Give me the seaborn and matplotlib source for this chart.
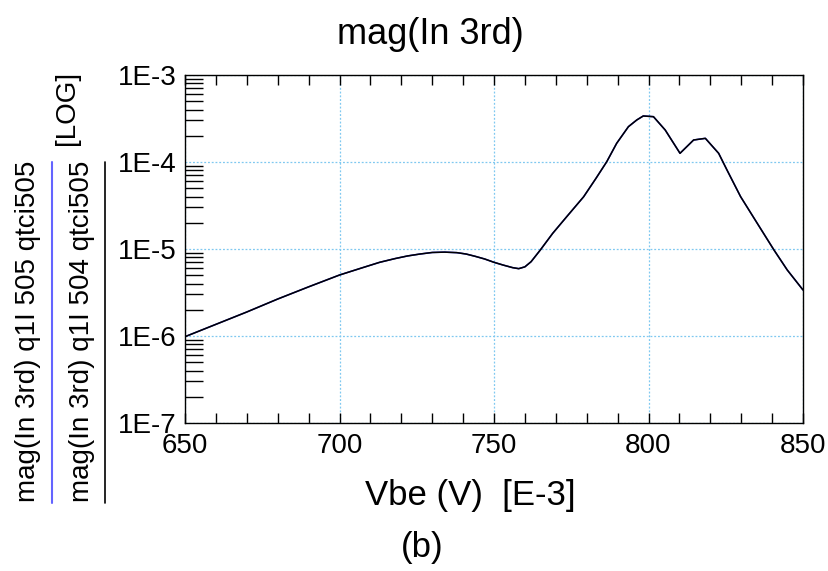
import numpy as np
import pandas as pd
import matplotlib
matplotlib.use("Agg")
import matplotlib.pyplot as plt
import seaborn as sns
from matplotlib.ticker import FixedLocator, NullFormatter, LogLocator
from matplotlib.lines import Line2D

# ---- data ----
vbe_mv = [650, 660, 670, 680, 690, 700, 707, 713, 718, 722, 726, 730, 734, 738, 741,
          744, 747, 750, 753, 756, 758, 760, 762, 765, 769, 773.5, 779, 783, 786.5,
          789.7, 793.5, 796.2, 798.3, 801.6, 805.4, 810.2, 814.6, 818.4, 822.7,
          825.4, 829.8, 835.2, 840.6, 844.9, 850]
mag_log10_q1i505 = [-6.008, -5.866, -5.724, -5.575, -5.435, -5.299, -5.22, -5.153,
                    -5.11, -5.08, -5.058, -5.04, -5.036, -5.042, -5.058, -5.085,
                    -5.115, -5.153, -5.185, -5.214, -5.226, -5.205, -5.146, -5.011,
                    -4.82, -4.63, -4.40, -4.188, -3.996, -3.785, -3.594, -3.517,
                    -3.471, -3.479, -3.632, -3.9, -3.747, -3.728, -3.9, -4.092,
                    -4.398, -4.705, -5.011, -5.241, -5.471]
mag_log10_q1i504 = [-6.008, -5.866, -5.724, -5.575, -5.435, -5.299, -5.22, -5.153,
                    -5.11, -5.08, -5.058, -5.04, -5.036, -5.042, -5.058, -5.085,
                    -5.115, -5.153, -5.185, -5.214, -5.226, -5.205, -5.146, -5.011,
                    -4.82, -4.63, -4.40, -4.188, -3.996, -3.785, -3.594, -3.517,
                    -3.471, -3.479, -3.632, -3.9, -3.747, -3.728, -3.9, -4.092,
                    -4.398, -4.705, -5.011, -5.241, -5.471]
series_names = ["mag(In 3rd) q1I 505 qtci505", "mag(In 3rd) q1I 504 qtci505"]
series_colors = ["#1a1acc", "#000000"]
x_ticks = [650, 700, 750, 800, 850]
y_ticks = [1e-7, 1e-6, 1e-5, 1e-4, 1e-3]
y_tick_labels = ["1E-7", "1E-6", "1E-5", "1E-4", "1E-3"]
title = "mag(In 3rd)"
xlabel = "Vbe (V)  [E-3]"
caption = "(b)"

df = pd.concat([
    pd.DataFrame({"Vbe": vbe_mv, "mag": np.power(10.0, mag_log10_q1i505),
                  "series": series_names[0]}),
    pd.DataFrame({"Vbe": vbe_mv, "mag": np.power(10.0, mag_log10_q1i504),
                  "series": series_names[1]}),
])

sns.set_style("white")
plt.rcParams["font.family"] = ["Liberation Sans", "DejaVu Sans"]
plt.rcParams["text.color"] = "black"
plt.rcParams["xtick.color"] = "black"
plt.rcParams["ytick.color"] = "black"

W, H = 829, 571
fig = plt.figure(figsize=(W / 100, H / 100), dpi=100)
L, R, T, B = 185, 803, 75, 423
ax = fig.add_axes([L / W, 1 - B / H, (R - L) / W, (B - T) / H])

sns.lineplot(data=df, x="Vbe", y="mag", hue="series", palette=series_colors,
             hue_order=series_names, ax=ax, legend=False, linewidth=1.1,
             estimator=None, sort=False)

ax.set_yscale("log")
ax.set_xlim(650, 850)
ax.set_ylim(1e-7, 1e-3)

ax.set_xticks(x_ticks)
ax.set_xticklabels([str(v) for v in x_ticks])
ax.set_yticks(y_ticks)
ax.set_yticklabels(y_tick_labels)
ax.xaxis.set_minor_locator(FixedLocator(np.arange(650, 851, 10)))
ax.yaxis.set_minor_locator(LogLocator(base=10, subs=np.arange(2, 10), numticks=20))
ax.yaxis.set_minor_formatter(NullFormatter())

ax.tick_params(axis="both", which="major", labelsize=20, labelcolor="black")
ax.tick_params(axis="x", which="minor", direction="in", top=True, bottom=True,
               length=7, width=1, color="black")
ax.tick_params(axis="x", which="major", direction="in", top=True, bottom=True,
               length=7, width=1, color="black", pad=7)
ax.tick_params(axis="y", which="minor", direction="in", left=True, right=False,
               length=13, width=1, color="black")
ax.tick_params(axis="y", which="major", direction="in", left=True, right=False,
               length=0, pad=6)

ax.grid(True, which="major", color="#7fc8f0", linestyle=(0, (1.5, 1.5)), linewidth=0.9)
for s in ax.spines.values():
    s.set_color("black")
    s.set_linewidth(1.0)

ax.set_xlabel("")
ax.set_ylabel("")

fig.text(430 / W, 1 - 34 / H, title, ha="center", va="center", fontsize=26, color="black")
fig.text(470 / W, 1 - 495 / H, xlabel, ha="center", va="center", fontsize=25, color="black")
fig.text(422 / W, 1 - 548 / H, caption, ha="center", va="center", fontsize=25, color="black")

# stacked y-axis labels
fig.text(28 / W, 1 - 331 / H, series_names[0], rotation=90, ha="center", va="center",
         fontsize=20, color="black")
fig.text(82 / W, 1 - 331 / H, series_names[1], rotation=90, ha="center", va="center",
         fontsize=20, color="black")
fig.text(67 / W, 1 - 108 / H, "[LOG]", rotation=90, ha="center", va="center",
         fontsize=20, color="black")
fig.add_artist(Line2D([52 / W, 52 / W], [1 - 162 / H, 1 - 503 / H],
                      transform=fig.transFigure, color="#6464ff", linewidth=1.5))
fig.add_artist(Line2D([105 / W, 105 / W], [1 - 162 / H, 1 - 503 / H],
                      transform=fig.transFigure, color="black", linewidth=1.2))

fig.savefig("out.png", dpi=100)
